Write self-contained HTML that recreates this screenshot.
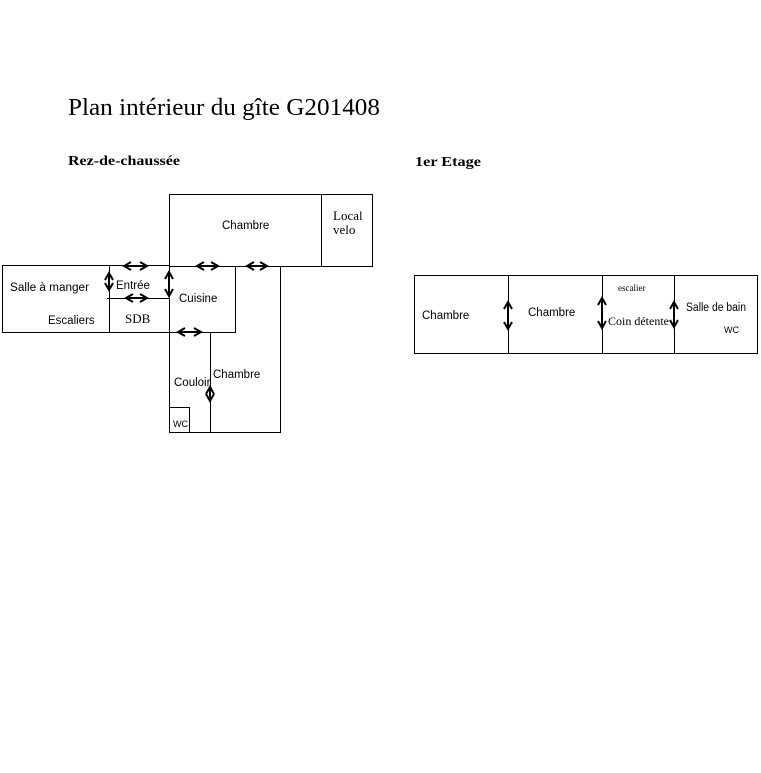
<!DOCTYPE html>
<html><head><style>
body{margin:0;background:#fff;width:761px;height:768px;overflow:hidden}
svg text{font-family:"Liberation Sans","DejaVu Sans",sans-serif;font-size:11.5px;fill:#000}
.s{font-family:"Liberation Serif",serif}
</style></head><body>
<svg width="761" height="768" viewBox="0 0 761 768" xmlns="http://www.w3.org/2000/svg">
<defs>
<marker id="a" viewBox="0 0 10 10" refX="8" refY="5" markerWidth="5" markerHeight="5" orient="auto-start-reverse"><path d="M1,1 L8,5 L1,9" fill="none" stroke="#000" stroke-width="2"/></marker>
</defs>
<text x="68" y="115" class="s" style="font-size:24px" textLength="312" lengthAdjust="spacingAndGlyphs">Plan intérieur du gîte G201408</text>
<text x="68" y="165" class="s" style="font-size:14px;font-weight:bold" textLength="112" lengthAdjust="spacingAndGlyphs">Rez-de-chaussée</text>
<text x="415" y="166" class="s" style="font-size:14px;font-weight:bold" textLength="66" lengthAdjust="spacingAndGlyphs">1er Etage</text>
<g fill="none" stroke="#000" stroke-width="1">
<rect x="169.5" y="194.5" width="203" height="72"/>
<line x1="321.5" y1="194" x2="321.5" y2="266"/>
<rect x="2.5" y="265.5" width="167" height="67"/>
<line x1="109.5" y1="265" x2="109.5" y2="332"/>
<line x1="107" y1="298.5" x2="169" y2="298.5"/>
<rect x="169.5" y="266.5" width="66" height="66"/>
<polyline points="169.5,332 169.5,432.5 280.5,432.5 280.5,266"/>
<line x1="210.5" y1="332" x2="210.5" y2="432"/>
<rect x="169.5" y="407.5" width="20" height="25"/>
<rect x="414.5" y="275.5" width="343" height="78"/>
<line x1="508.5" y1="275" x2="508.5" y2="353"/>
<line x1="602.5" y1="275" x2="602.5" y2="353"/>
<line x1="674.5" y1="275" x2="674.5" y2="353"/>
</g>
<g stroke="#000" stroke-width="2" marker-start="url(#a)" marker-end="url(#a)">
<line x1="124" y1="266" x2="147" y2="266"/>
<line x1="197" y1="266" x2="218" y2="266"/>
<line x1="247" y1="266" x2="267" y2="266"/>
<line x1="126" y1="298" x2="147" y2="298"/>
<line x1="178" y1="332" x2="201" y2="332"/>
<line x1="109" y1="273" x2="109" y2="290"/>
<line x1="169" y1="272" x2="169" y2="296"/>
<line x1="210" y1="387" x2="210" y2="401"/>
<line x1="508" y1="302" x2="508" y2="329"/>
<line x1="602" y1="298" x2="602" y2="328"/>
<line x1="674" y1="302" x2="674" y2="327"/>
</g>
<text x="222" y="229">Chambre</text>
<text x="333" y="220" class="s" style="font-size:13px">Local</text>
<text x="333" y="234" class="s" style="font-size:13px">velo</text>
<text x="10" y="291" textLength="79" lengthAdjust="spacingAndGlyphs">Salle à manger</text>
<text x="116" y="289">Entrée</text>
<text x="179" y="302">Cuisine</text>
<text x="48" y="324">Escaliers</text>
<text x="125" y="323" class="s" style="font-size:13px">SDB</text>
<text x="213" y="378">Chambre</text>
<text x="174" y="386">Couloir</text>
<text x="173" y="427" style="font-size:9px">WC</text>
<text x="422" y="319">Chambre</text>
<text x="528" y="316">Chambre</text>
<text x="618" y="291" class="s" style="font-size:9px">escalier</text>
<text x="608" y="325" class="s" style="font-size:12px">Coin détente</text>
<text x="686" y="311" textLength="60" lengthAdjust="spacingAndGlyphs">Salle de bain</text>
<text x="724" y="333" style="font-size:9px">WC</text>
</svg>
</body></html>
